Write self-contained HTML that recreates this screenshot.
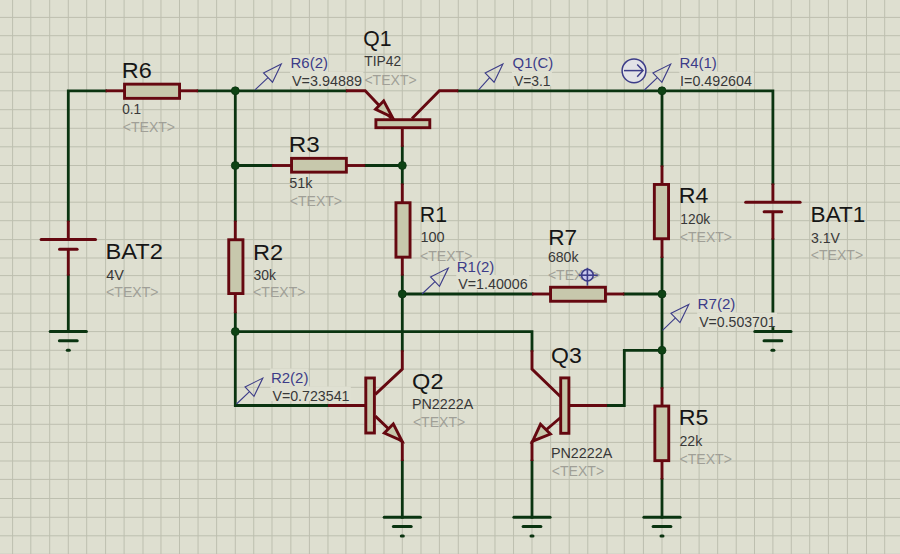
<!DOCTYPE html>
<html><head><meta charset="utf-8"><style>
html,body{margin:0;padding:0;background:#dedfd0;}
svg{display:block;}
text{font-family:"Liberation Sans", sans-serif;}
</style></head><body>
<svg width="900" height="554" viewBox="0 0 900 554">
<rect width="900" height="554" fill="#dedfd0"/>
<g stroke="#bdbfaf" stroke-width="1.0"><line x1="12.58" y1="0" x2="12.58" y2="554"/><line x1="30.80" y1="0" x2="30.80" y2="554"/><line x1="49.70" y1="0" x2="49.70" y2="554"/><line x1="68.30" y1="0" x2="68.30" y2="554"/><line x1="86.70" y1="0" x2="86.70" y2="554"/><line x1="105.60" y1="0" x2="105.60" y2="554"/><line x1="124.10" y1="0" x2="124.10" y2="554"/><line x1="143.00" y1="0" x2="143.00" y2="554"/><line x1="160.96" y1="0" x2="160.96" y2="554"/><line x1="179.51" y1="0" x2="179.51" y2="554"/><line x1="198.07" y1="0" x2="198.07" y2="554"/><line x1="216.63" y1="0" x2="216.63" y2="554"/><line x1="235.30" y1="0" x2="235.30" y2="554"/><line x1="253.74" y1="0" x2="253.74" y2="554"/><line x1="272.00" y1="0" x2="272.00" y2="554"/><line x1="290.85" y1="0" x2="290.85" y2="554"/><line x1="309.41" y1="0" x2="309.41" y2="554"/><line x1="327.97" y1="0" x2="327.97" y2="554"/><line x1="345.90" y1="0" x2="345.90" y2="554"/><line x1="365.20" y1="0" x2="365.20" y2="554"/><line x1="384.00" y1="0" x2="384.00" y2="554"/><line x1="402.30" y1="0" x2="402.30" y2="554"/><line x1="421.00" y1="0" x2="421.00" y2="554"/><line x1="439.40" y1="0" x2="439.40" y2="554"/><line x1="458.30" y1="0" x2="458.30" y2="554"/><line x1="477.30" y1="0" x2="477.30" y2="554"/><line x1="494.98" y1="0" x2="494.98" y2="554"/><line x1="513.54" y1="0" x2="513.54" y2="554"/><line x1="532.00" y1="0" x2="532.00" y2="554"/><line x1="550.65" y1="0" x2="550.65" y2="554"/><line x1="569.21" y1="0" x2="569.21" y2="554"/><line x1="587.77" y1="0" x2="587.77" y2="554"/><line x1="607.00" y1="0" x2="607.00" y2="554"/><line x1="624.30" y1="0" x2="624.30" y2="554"/><line x1="643.44" y1="0" x2="643.44" y2="554"/><line x1="662.00" y1="0" x2="662.00" y2="554"/><line x1="680.55" y1="0" x2="680.55" y2="554"/><line x1="699.11" y1="0" x2="699.11" y2="554"/><line x1="717.67" y1="0" x2="717.67" y2="554"/><line x1="736.22" y1="0" x2="736.22" y2="554"/><line x1="754.50" y1="0" x2="754.50" y2="554"/><line x1="772.90" y1="0" x2="772.90" y2="554"/><line x1="791.30" y1="0" x2="791.30" y2="554"/><line x1="809.70" y1="0" x2="809.70" y2="554"/><line x1="828.40" y1="0" x2="828.40" y2="554"/><line x1="847.40" y1="0" x2="847.40" y2="554"/><line x1="866.50" y1="0" x2="866.50" y2="554"/><line x1="884.70" y1="0" x2="884.70" y2="554"/><line x1="0" y1="17.40" x2="900" y2="17.40"/><line x1="0" y1="35.70" x2="900" y2="35.70"/><line x1="0" y1="54.20" x2="900" y2="54.20"/><line x1="0" y1="72.30" x2="900" y2="72.30"/><line x1="0" y1="90.80" x2="900" y2="90.80"/><line x1="0" y1="109.70" x2="900" y2="109.70"/><line x1="0" y1="128.30" x2="900" y2="128.30"/><line x1="0" y1="146.80" x2="900" y2="146.80"/><line x1="0" y1="165.50" x2="900" y2="165.50"/><line x1="0" y1="183.50" x2="900" y2="183.50"/><line x1="0" y1="202.20" x2="900" y2="202.20"/><line x1="0" y1="220.70" x2="900" y2="220.70"/><line x1="0" y1="239.60" x2="900" y2="239.60"/><line x1="0" y1="258.00" x2="900" y2="258.00"/><line x1="0" y1="275.60" x2="900" y2="275.60"/><line x1="0" y1="294.00" x2="900" y2="294.00"/><line x1="0" y1="313.20" x2="900" y2="313.20"/><line x1="0" y1="331.60" x2="900" y2="331.60"/><line x1="0" y1="350.30" x2="900" y2="350.30"/><line x1="0" y1="369.10" x2="900" y2="369.10"/><line x1="0" y1="387.30" x2="900" y2="387.30"/><line x1="0" y1="405.50" x2="900" y2="405.50"/><line x1="0" y1="424.30" x2="900" y2="424.30"/><line x1="0" y1="442.40" x2="900" y2="442.40"/><line x1="0" y1="461.00" x2="900" y2="461.00"/><line x1="0" y1="479.40" x2="900" y2="479.40"/><line x1="0" y1="498.50" x2="900" y2="498.50"/><line x1="0" y1="517.30" x2="900" y2="517.30"/><line x1="0" y1="535.80" x2="900" y2="535.80"/><line x1="0" y1="554.27" x2="900" y2="554.27"/></g><polyline points="68.30,220.70 68.30,90.80 105.60,90.80" fill="none" stroke="#0a3410" stroke-width="2.8" stroke-linecap="square"/><polyline points="198.07,90.80 345.90,90.80" fill="none" stroke="#0a3410" stroke-width="2.8" stroke-linecap="square"/><polyline points="458.30,90.80 772.90,90.80 772.90,183.50" fill="none" stroke="#0a3410" stroke-width="2.8" stroke-linecap="square"/><polyline points="68.30,275.60 68.30,331.60" fill="none" stroke="#0a3410" stroke-width="2.8" stroke-linecap="square"/><polyline points="235.30,90.80 235.30,220.70" fill="none" stroke="#0a3410" stroke-width="2.8" stroke-linecap="square"/><polyline points="235.30,313.20 235.30,405.50 327.97,405.50" fill="none" stroke="#0a3410" stroke-width="2.8" stroke-linecap="square"/><polyline points="235.30,165.50 272.00,165.50" fill="none" stroke="#0a3410" stroke-width="2.8" stroke-linecap="square"/><polyline points="365.20,165.50 402.30,165.50" fill="none" stroke="#0a3410" stroke-width="2.8" stroke-linecap="square"/><polyline points="402.30,146.80 402.30,183.50" fill="none" stroke="#0a3410" stroke-width="2.8" stroke-linecap="square"/><polyline points="402.30,275.60 402.30,350.30" fill="none" stroke="#0a3410" stroke-width="2.8" stroke-linecap="square"/><polyline points="402.30,461.00 402.30,517.30" fill="none" stroke="#0a3410" stroke-width="2.8" stroke-linecap="square"/><polyline points="402.30,294.00 532.00,294.00" fill="none" stroke="#0a3410" stroke-width="2.8" stroke-linecap="square"/><polyline points="624.30,294.00 662.00,294.00" fill="none" stroke="#0a3410" stroke-width="2.8" stroke-linecap="square"/><polyline points="235.30,331.60 532.00,331.60 532.00,350.30" fill="none" stroke="#0a3410" stroke-width="2.8" stroke-linecap="square"/><polyline points="532.00,461.00 532.00,517.30" fill="none" stroke="#0a3410" stroke-width="2.8" stroke-linecap="square"/><polyline points="662.00,90.80 662.00,165.50" fill="none" stroke="#0a3410" stroke-width="2.8" stroke-linecap="square"/><polyline points="662.00,258.00 662.00,387.30" fill="none" stroke="#0a3410" stroke-width="2.8" stroke-linecap="square"/><polyline points="662.00,479.40 662.00,517.30" fill="none" stroke="#0a3410" stroke-width="2.8" stroke-linecap="square"/><polyline points="662.00,350.30 624.30,350.30 624.30,405.50 607.00,405.50" fill="none" stroke="#0a3410" stroke-width="2.8" stroke-linecap="square"/><polyline points="772.90,239.60 772.90,331.60" fill="none" stroke="#0a3410" stroke-width="2.8" stroke-linecap="square"/><polyline points="105.60,90.80 124.10,90.80" fill="none" stroke="#650810" stroke-width="2.9" stroke-linecap="butt"/><polyline points="180.00,90.80 198.07,90.80" fill="none" stroke="#650810" stroke-width="2.9" stroke-linecap="butt"/><rect x="124.55" y="84.15" width="55.00" height="14.20" fill="#c7c8ac" stroke="#650810" stroke-width="2.9"/><polyline points="272.00,165.50 291.10,165.50" fill="none" stroke="#650810" stroke-width="2.9" stroke-linecap="butt"/><polyline points="346.80,165.50 365.20,165.50" fill="none" stroke="#650810" stroke-width="2.9" stroke-linecap="butt"/><rect x="291.55" y="158.35" width="54.80" height="13.80" fill="#c7c8ac" stroke="#650810" stroke-width="2.9"/><polyline points="532.00,294.00 550.10,294.00" fill="none" stroke="#650810" stroke-width="2.9" stroke-linecap="butt"/><polyline points="605.90,294.00 624.30,294.00" fill="none" stroke="#650810" stroke-width="2.9" stroke-linecap="butt"/><rect x="550.55" y="287.25" width="54.90" height="14.00" fill="#c7c8ac" stroke="#650810" stroke-width="2.9"/><polyline points="235.30,220.70 235.30,239.30" fill="none" stroke="#650810" stroke-width="2.9" stroke-linecap="butt"/><polyline points="235.30,294.00 235.30,313.20" fill="none" stroke="#650810" stroke-width="2.9" stroke-linecap="butt"/><rect x="228.75" y="239.75" width="14.20" height="53.80" fill="#c7c8ac" stroke="#650810" stroke-width="2.9"/><polyline points="402.30,183.50 402.30,202.30" fill="none" stroke="#650810" stroke-width="2.9" stroke-linecap="butt"/><polyline points="402.30,257.60 402.30,275.60" fill="none" stroke="#650810" stroke-width="2.9" stroke-linecap="butt"/><rect x="395.95" y="202.75" width="14.10" height="54.40" fill="#c7c8ac" stroke="#650810" stroke-width="2.9"/><polyline points="662.00,165.50 662.00,184.00" fill="none" stroke="#650810" stroke-width="2.9" stroke-linecap="butt"/><polyline points="662.00,239.20 662.00,258.00" fill="none" stroke="#650810" stroke-width="2.9" stroke-linecap="butt"/><rect x="654.35" y="184.45" width="14.20" height="54.30" fill="#c7c8ac" stroke="#650810" stroke-width="2.9"/><polyline points="662.00,387.30 662.00,405.60" fill="none" stroke="#650810" stroke-width="2.9" stroke-linecap="butt"/><polyline points="662.00,461.10 662.00,479.40" fill="none" stroke="#650810" stroke-width="2.9" stroke-linecap="butt"/><rect x="654.85" y="406.05" width="13.90" height="54.60" fill="#c7c8ac" stroke="#650810" stroke-width="2.9"/><polyline points="68.30,220.70 68.30,239.60" fill="none" stroke="#650810" stroke-width="2.9" stroke-linecap="butt"/><polyline points="68.30,249.20 68.30,275.60" fill="none" stroke="#650810" stroke-width="2.9" stroke-linecap="butt"/><g stroke="#650810" stroke-width="3" stroke-linecap="round"><line x1="41.10" y1="239.60" x2="95.50" y2="239.60"/><line x1="59.50" y1="249.20" x2="77.10" y2="249.20"/></g><polyline points="772.90,183.50 772.90,202.20" fill="none" stroke="#650810" stroke-width="2.9" stroke-linecap="butt"/><polyline points="772.90,211.80 772.90,239.60" fill="none" stroke="#650810" stroke-width="2.9" stroke-linecap="butt"/><g stroke="#650810" stroke-width="3" stroke-linecap="round"><line x1="745.70" y1="202.20" x2="800.10" y2="202.20"/><line x1="764.10" y1="211.80" x2="781.70" y2="211.80"/></g><g stroke="#0a3410" stroke-width="3" stroke-linecap="round"><line x1="50.20" y1="331.60" x2="86.40" y2="331.60"/><line x1="59.40" y1="340.80" x2="77.20" y2="340.80"/><line x1="67.30" y1="350.30" x2="69.30" y2="350.30"/></g><g stroke="#0a3410" stroke-width="3" stroke-linecap="round"><line x1="754.80" y1="331.60" x2="791.00" y2="331.60"/><line x1="764.00" y1="340.80" x2="781.80" y2="340.80"/><line x1="771.90" y1="350.30" x2="773.90" y2="350.30"/></g><g stroke="#0a3410" stroke-width="3" stroke-linecap="round"><line x1="384.20" y1="517.30" x2="420.40" y2="517.30"/><line x1="393.40" y1="526.50" x2="411.20" y2="526.50"/><line x1="401.30" y1="536.00" x2="403.30" y2="536.00"/></g><g stroke="#0a3410" stroke-width="3" stroke-linecap="round"><line x1="513.90" y1="517.30" x2="550.10" y2="517.30"/><line x1="523.10" y1="526.50" x2="540.90" y2="526.50"/><line x1="531.00" y1="536.00" x2="533.00" y2="536.00"/></g><g stroke="#0a3410" stroke-width="3" stroke-linecap="round"><line x1="643.90" y1="517.30" x2="680.10" y2="517.30"/><line x1="653.10" y1="526.50" x2="670.90" y2="526.50"/><line x1="661.00" y1="536.00" x2="663.00" y2="536.00"/></g><polyline points="345.90,90.80 365.20,90.80 391.50,118.50" fill="none" stroke="#650810" stroke-width="2.9" stroke-linecap="butt"/><polyline points="458.30,90.80 439.40,90.80 412.00,118.50" fill="none" stroke="#650810" stroke-width="2.9" stroke-linecap="butt"/><polyline points="402.30,128.50 402.30,146.80" fill="none" stroke="#650810" stroke-width="2.9" stroke-linecap="butt"/><rect x="375.9" y="119.7" width="53.9" height="8.0" fill="#c7c8ac" stroke="#650810" stroke-width="2.9"/><polygon points="375.6,109.3 383.7,100.9 392.4,117.3" fill="#c7c8ac" stroke="#650810" stroke-width="2.9" stroke-linejoin="miter"/><polyline points="402.30,350.30 402.30,369.10 375.30,394.40" fill="none" stroke="#650810" stroke-width="2.9" stroke-linecap="butt"/><polyline points="327.97,405.50 365.80,405.50" fill="none" stroke="#650810" stroke-width="2.9" stroke-linecap="butt"/><rect x="365.8" y="378" width="8.6" height="55" fill="#c7c8ac" stroke="#650810" stroke-width="2.9"/><polyline points="375.30,416.10 402.30,442.00 402.30,461.00" fill="none" stroke="#650810" stroke-width="2.9" stroke-linecap="butt"/><polygon points="384.3,433.1 393.3,423.9 401.9,440.8" fill="#c7c8ac" stroke="#650810" stroke-width="2.9"/><polyline points="532.00,350.30 532.00,369.10 560.60,396.80" fill="none" stroke="#650810" stroke-width="2.9" stroke-linecap="butt"/><polyline points="607.00,405.50 568.60,405.50" fill="none" stroke="#650810" stroke-width="2.9" stroke-linecap="butt"/><rect x="560.7" y="377.9" width="8.2" height="55.4" fill="#c7c8ac" stroke="#650810" stroke-width="2.9"/><polyline points="560.60,417.50 532.00,442.00 532.00,461.00" fill="none" stroke="#650810" stroke-width="2.9" stroke-linecap="butt"/><polygon points="550.4,434.0 540.5,424.3 532.6,441.2" fill="#c7c8ac" stroke="#650810" stroke-width="2.9"/><circle cx="235.30" cy="90.80" r="4.0" fill="#0e4314" stroke="#0a3410" stroke-width="0.8"/><circle cx="235.30" cy="165.50" r="4.0" fill="#0e4314" stroke="#0a3410" stroke-width="0.8"/><circle cx="402.30" cy="165.50" r="4.0" fill="#0e4314" stroke="#0a3410" stroke-width="0.8"/><circle cx="402.30" cy="294.00" r="4.0" fill="#0e4314" stroke="#0a3410" stroke-width="0.8"/><circle cx="235.30" cy="331.60" r="4.0" fill="#0e4314" stroke="#0a3410" stroke-width="0.8"/><circle cx="662.00" cy="90.80" r="4.0" fill="#0e4314" stroke="#0a3410" stroke-width="0.8"/><circle cx="662.00" cy="294.00" r="4.0" fill="#0e4314" stroke="#0a3410" stroke-width="0.8"/><circle cx="662.00" cy="350.30" r="4.0" fill="#0e4314" stroke="#0a3410" stroke-width="0.8"/><g fill="none" stroke="#3c3c88" stroke-width="1.1" stroke-linejoin="miter"><line x1="255.00" y1="89.90" x2="268.00" y2="77.55"/><polygon points="263.50,72.90 281.30,64.00 272.50,82.20"/></g><g fill="none" stroke="#3c3c88" stroke-width="1.1" stroke-linejoin="miter"><line x1="478.60" y1="89.90" x2="489.60" y2="77.55"/><polygon points="485.10,72.90 502.90,64.00 494.10,82.20"/></g><g fill="none" stroke="#3c3c88" stroke-width="1.1" stroke-linejoin="miter"><line x1="644.40" y1="90.00" x2="657.40" y2="77.65"/><polygon points="652.90,73.00 670.70,64.10 661.90,82.30"/></g><g fill="none" stroke="#3c3c88" stroke-width="1.1" stroke-linejoin="miter"><line x1="422.00" y1="294.00" x2="435.00" y2="281.65"/><polygon points="430.50,277.00 448.30,268.10 439.50,286.30"/></g><g fill="none" stroke="#3c3c88" stroke-width="1.1" stroke-linejoin="miter"><line x1="662.50" y1="330.30" x2="675.50" y2="317.95"/><polygon points="671.00,313.30 688.80,304.40 680.00,322.60"/></g><g fill="none" stroke="#3c3c88" stroke-width="1.1" stroke-linejoin="miter"><line x1="236.50" y1="404.00" x2="249.50" y2="391.65"/><polygon points="245.00,387.00 262.80,378.10 254.00,396.30"/></g><g fill="none" stroke="#3c3c88" stroke-width="1.5"><circle cx="634" cy="70.8" r="11.9" fill="#e2e2e6"/><line x1="624" y1="70.6" x2="643" y2="70.6"/><polyline points="637.2,64.6 643,70.6 637.2,76.8"/></g><rect x="289.80" y="54.40" width="38.20" height="17.40" fill="#dfe0d2"/><rect x="290.10" y="71.80" width="73.20" height="14.6" fill="#dfe0d2"/><rect x="511.30" y="54.40" width="41.90" height="17.20" fill="#dfe0d2"/><rect x="512.00" y="71.60" width="39.90" height="14.6" fill="#dfe0d2"/><rect x="678.70" y="54.40" width="38.20" height="17.20" fill="#dfe0d2"/><rect x="679.40" y="71.60" width="74.10" height="14.6" fill="#dfe0d2"/><rect x="456.00" y="258.40" width="38.30" height="16.70" fill="#dfe0d2"/><rect x="456.30" y="275.10" width="72.70" height="14.6" fill="#dfe0d2"/><rect x="696.80" y="294.50" width="38.70" height="18.00" fill="#dfe0d2"/><rect x="697.20" y="312.50" width="79.80" height="14.6" fill="#dfe0d2"/><rect x="270.20" y="368.50" width="38.30" height="18.00" fill="#dfe0d2"/><rect x="270.50" y="386.50" width="80.30" height="14.6" fill="#dfe0d2"/><g font-family="Liberation Sans, sans-serif"><text x="121.88" y="77.85" font-size="22.6" fill="#161616" textLength="29.95" lengthAdjust="spacingAndGlyphs">R6</text><text x="363.20" y="46.05" font-size="22.6" fill="#161616" textLength="28.24" lengthAdjust="spacingAndGlyphs">Q1</text><text x="288.81" y="152.45" font-size="22.6" fill="#161616" textLength="30.95" lengthAdjust="spacingAndGlyphs">R3</text><text x="419.86" y="221.95" font-size="22.6" fill="#161616" textLength="27.18" lengthAdjust="spacingAndGlyphs">R1</text><text x="252.97" y="260.05" font-size="22.6" fill="#161616" textLength="30.12" lengthAdjust="spacingAndGlyphs">R2</text><text x="105.62" y="259.35" font-size="22.6" fill="#161616" textLength="57.33" lengthAdjust="spacingAndGlyphs">BAT2</text><text x="678.80" y="203.45" font-size="22.6" fill="#161616" textLength="29.58" lengthAdjust="spacingAndGlyphs">R4</text><text x="810.61" y="221.75" font-size="22.6" fill="#161616" textLength="54.66" lengthAdjust="spacingAndGlyphs">BAT1</text><text x="548.25" y="245.05" font-size="22.6" fill="#161616" textLength="28.89" lengthAdjust="spacingAndGlyphs">R7</text><text x="551.01" y="363.15" font-size="22.6" fill="#161616" textLength="30.70" lengthAdjust="spacingAndGlyphs">Q3</text><text x="412.09" y="389.15" font-size="22.6" fill="#161616" textLength="31.40" lengthAdjust="spacingAndGlyphs">Q2</text><text x="678.70" y="425.05" font-size="22.6" fill="#161616" textLength="29.68" lengthAdjust="spacingAndGlyphs">R5</text><text x="122.17" y="114.14" font-size="14.6" fill="#383838" textLength="18.89" lengthAdjust="spacingAndGlyphs">0.1</text><text x="364.29" y="66.14" font-size="14.6" fill="#383838" textLength="36.91" lengthAdjust="spacingAndGlyphs">TIP42</text><text x="289.22" y="188.34" font-size="14.6" fill="#383838" textLength="23.26" lengthAdjust="spacingAndGlyphs">51k</text><text x="420.50" y="242.34" font-size="14.6" fill="#383838" textLength="24.17" lengthAdjust="spacingAndGlyphs">100</text><text x="253.57" y="280.14" font-size="14.6" fill="#383838" textLength="22.41" lengthAdjust="spacingAndGlyphs">30k</text><text x="106.27" y="279.74" font-size="14.6" fill="#383838" textLength="17.70" lengthAdjust="spacingAndGlyphs">4V</text><text x="680.35" y="223.94" font-size="14.6" fill="#383838" textLength="29.83" lengthAdjust="spacingAndGlyphs">120k</text><text x="810.96" y="243.14" font-size="14.6" fill="#383838" textLength="29.00" lengthAdjust="spacingAndGlyphs">3.1V</text><text x="547.88" y="261.64" font-size="14.6" fill="#383838" textLength="30.60" lengthAdjust="spacingAndGlyphs">680k</text><text x="412.03" y="408.54" font-size="14.6" fill="#383838" textLength="61.20" lengthAdjust="spacingAndGlyphs">PN2222A</text><text x="550.92" y="457.74" font-size="14.6" fill="#383838" textLength="61.40" lengthAdjust="spacingAndGlyphs">PN2222A</text><text x="679.49" y="445.64" font-size="14.6" fill="#383838" textLength="22.79" lengthAdjust="spacingAndGlyphs">22k</text><text x="122.71" y="132.24" font-size="14.6" fill="#a09f97" textLength="52.38" lengthAdjust="spacingAndGlyphs">&lt;TEXT&gt;</text><text x="364.41" y="84.84" font-size="14.6" fill="#a09f97" textLength="52.38" lengthAdjust="spacingAndGlyphs">&lt;TEXT&gt;</text><text x="289.71" y="205.74" font-size="14.6" fill="#a09f97" textLength="52.38" lengthAdjust="spacingAndGlyphs">&lt;TEXT&gt;</text><text x="420.01" y="260.64" font-size="14.6" fill="#a09f97" textLength="52.38" lengthAdjust="spacingAndGlyphs">&lt;TEXT&gt;</text><text x="253.11" y="296.84" font-size="14.6" fill="#a09f97" textLength="52.38" lengthAdjust="spacingAndGlyphs">&lt;TEXT&gt;</text><text x="106.11" y="296.84" font-size="14.6" fill="#a09f97" textLength="52.38" lengthAdjust="spacingAndGlyphs">&lt;TEXT&gt;</text><text x="679.71" y="241.84" font-size="14.6" fill="#a09f97" textLength="52.38" lengthAdjust="spacingAndGlyphs">&lt;TEXT&gt;</text><text x="810.81" y="260.14" font-size="14.6" fill="#a09f97" textLength="52.38" lengthAdjust="spacingAndGlyphs">&lt;TEXT&gt;</text><text x="547.91" y="280.04" font-size="14.6" fill="#a09f97" textLength="52.38" lengthAdjust="spacingAndGlyphs">&lt;TEXT&gt;</text><text x="412.91" y="426.84" font-size="14.6" fill="#a09f97" textLength="52.38" lengthAdjust="spacingAndGlyphs">&lt;TEXT&gt;</text><text x="551.81" y="475.64" font-size="14.6" fill="#a09f97" textLength="52.38" lengthAdjust="spacingAndGlyphs">&lt;TEXT&gt;</text><text x="679.51" y="463.74" font-size="14.6" fill="#a09f97" textLength="52.38" lengthAdjust="spacingAndGlyphs">&lt;TEXT&gt;</text><text x="290.57" y="68.44" font-size="14.6" fill="#3c3c88" textLength="37.35" lengthAdjust="spacingAndGlyphs">R6(2)</text><text x="292.04" y="85.84" font-size="14.6" fill="#383838" textLength="69.94" lengthAdjust="spacingAndGlyphs">V=3.94889</text><text x="512.59" y="68.44" font-size="14.6" fill="#3c3c88" textLength="40.53" lengthAdjust="spacingAndGlyphs">Q1(C)</text><text x="513.94" y="85.64" font-size="14.6" fill="#383838" textLength="36.64" lengthAdjust="spacingAndGlyphs">V=3.1</text><text x="679.47" y="68.44" font-size="14.6" fill="#3c3c88" textLength="37.35" lengthAdjust="spacingAndGlyphs">R4(1)</text><text x="680.08" y="85.64" font-size="14.6" fill="#383838" textLength="71.84" lengthAdjust="spacingAndGlyphs">I=0.492604</text><text x="456.77" y="272.44" font-size="14.6" fill="#3c3c88" textLength="37.46" lengthAdjust="spacingAndGlyphs">R1(2)</text><text x="458.24" y="289.14" font-size="14.6" fill="#383838" textLength="69.39" lengthAdjust="spacingAndGlyphs">V=1.40006</text><text x="697.56" y="308.54" font-size="14.6" fill="#3c3c88" textLength="37.88" lengthAdjust="spacingAndGlyphs">R7(2)</text><text x="699.14" y="326.54" font-size="14.6" fill="#383838" textLength="76.55" lengthAdjust="spacingAndGlyphs">V=0.503701</text><text x="270.97" y="382.54" font-size="14.6" fill="#3c3c88" textLength="37.46" lengthAdjust="spacingAndGlyphs">R2(2)</text><text x="272.44" y="400.54" font-size="14.6" fill="#383838" textLength="77.06" lengthAdjust="spacingAndGlyphs">V=0.723541</text></g><g stroke="#3c3c88" stroke-width="1.6" fill="none"><circle cx="587.4" cy="275.2" r="5.8" fill="#c9c9ee"/><line x1="578.8" y1="275.2" x2="597.8" y2="275.2"/><line x1="587.4" y1="267.8" x2="587.4" y2="285.6"/></g>
</svg></body></html>
